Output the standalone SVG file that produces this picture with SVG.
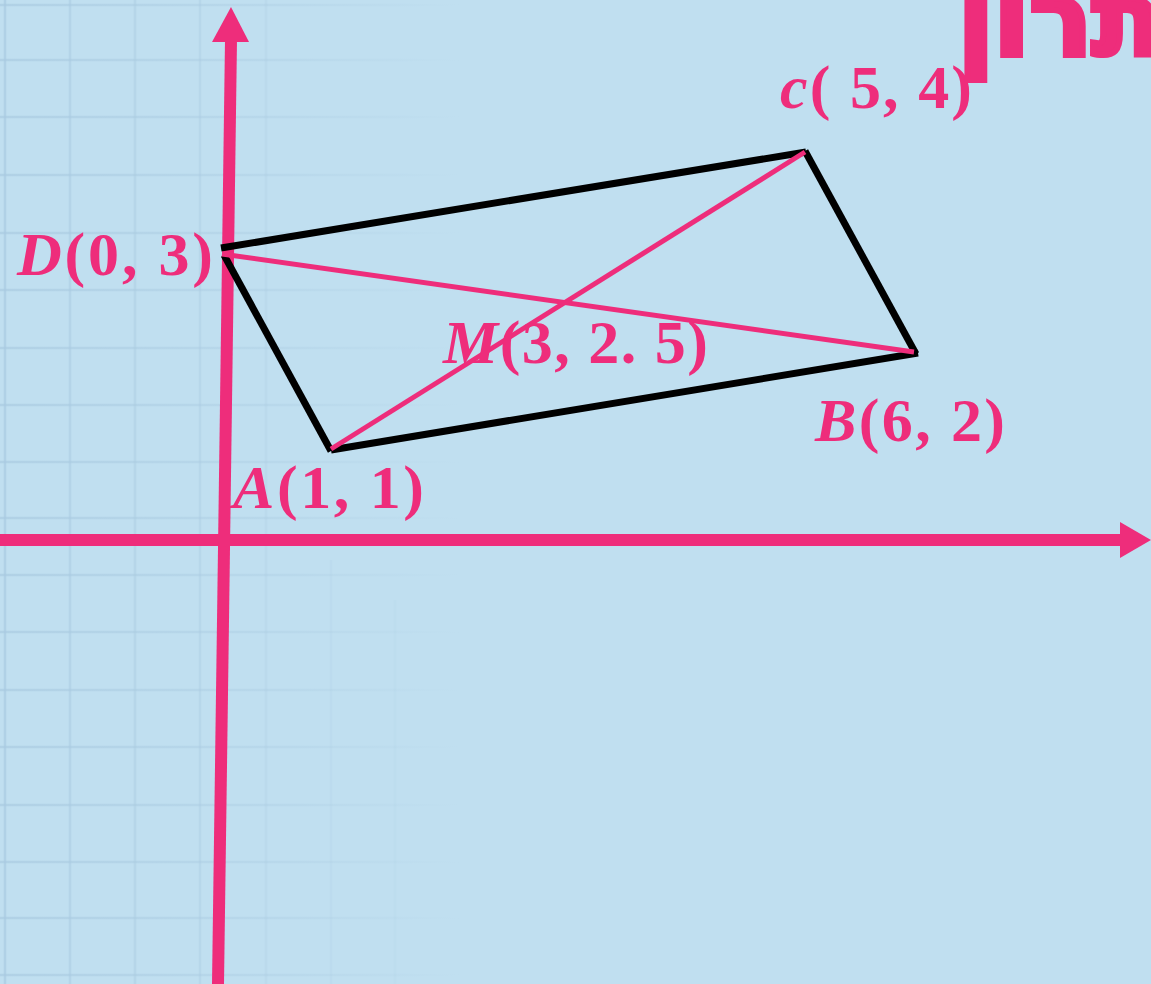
<svg xmlns="http://www.w3.org/2000/svg" width="1151" height="984" viewBox="0 0 1151 984">
<defs>
<style>
.grid line{stroke-width:2.5}
.axis{stroke:#EE2D7B;stroke-width:12;fill:none}
.edge{stroke:#000;stroke-width:7;fill:none}
.diag{stroke:#EE2D7B;stroke-width:5;fill:none}
.lbl{font-family:"Liberation Serif","DejaVu Serif",serif;font-weight:bold;font-size:62px;fill:#EE2D7B}
.it{font-style:italic}
.head{font-family:"DejaVu Sans","Liberation Sans",sans-serif;font-weight:bold;font-size:104px;fill:#EE2D7B;stroke:#EE2D7B;stroke-width:6;stroke-linejoin:miter}
</style>
<linearGradient id="fadeH" gradientUnits="userSpaceOnUse" x1="0" y1="0" x2="460" y2="0">
<stop offset="0" stop-color="#AACBE1" stop-opacity="0.7"/>
<stop offset="0.6" stop-color="#AACBE1" stop-opacity="0.35"/>
<stop offset="1" stop-color="#AACBE1" stop-opacity="0"/>
</linearGradient>
</defs>
<rect width="1151" height="984" fill="#C0DFF0"/>
<g id="grid" class="grid">
<g stroke="url(#fadeH)">
<line x1="0" y1="5" x2="460" y2="5"/>
<line x1="0" y1="60" x2="460" y2="60"/>
<line x1="0" y1="117" x2="460" y2="117"/>
<line x1="0" y1="175" x2="460" y2="175"/>
<line x1="0" y1="233" x2="460" y2="233"/>
<line x1="0" y1="290" x2="460" y2="290"/>
<line x1="0" y1="348" x2="460" y2="348"/>
<line x1="0" y1="405" x2="460" y2="405"/>
<line x1="0" y1="462" x2="460" y2="462"/>
<line x1="0" y1="518" x2="460" y2="518"/>
<line x1="0" y1="575" x2="460" y2="575"/>
<line x1="0" y1="632" x2="460" y2="632"/>
<line x1="0" y1="690" x2="460" y2="690"/>
<line x1="0" y1="747" x2="460" y2="747"/>
<line x1="0" y1="805" x2="460" y2="805"/>
<line x1="0" y1="862" x2="460" y2="862"/>
<line x1="0" y1="918" x2="460" y2="918"/>
<line x1="0" y1="975" x2="460" y2="975"/>
</g>
<g stroke="#AACBE1">
<line x1="5" y1="0" x2="5" y2="984" stroke-opacity="0.7"/>
<line x1="70" y1="0" x2="70" y2="984" stroke-opacity="0.55"/>
<line x1="135" y1="0" x2="135" y2="984" stroke-opacity="0.45"/>
<line x1="200" y1="0" x2="200" y2="984" stroke-opacity="0.4"/>
<line x1="266" y1="0" x2="266" y2="984" stroke-opacity="0.25"/>
<line x1="331" y1="560" x2="331" y2="984" stroke-opacity="0.15"/>
<line x1="395" y1="600" x2="395" y2="984" stroke-opacity="0.1"/>
</g>
</g>
<g id="connectors">
<line id="y-axis" class="axis" x1="218" y1="984" x2="231" y2="40"/>
<polygon points="231,7 249,42 212,42" fill="#EE2D7B"/>
<line id="x-axis" class="axis" x1="0" y1="540" x2="1122" y2="540"/>
<polygon points="1151,540 1120,522 1120,558" fill="#EE2D7B"/>
<line class="edge" x1="221" y1="248" x2="806" y2="152"/>
<line class="edge" x1="805" y1="151" x2="916" y2="354"/>
<line class="edge" x1="918" y1="353" x2="331" y2="450"/>
<line class="edge" x1="331" y1="451" x2="224" y2="255"/>
<line class="diag" x1="331" y1="449" x2="805" y2="152"/>
<line class="diag" x1="222" y1="254" x2="914" y2="352"/>
</g>
<g id="node-D"><text class="lbl" x="17" y="275" textLength="196" lengthAdjust="spacing"><tspan class="it">D</tspan>(0, 3)</text></g>
<g id="node-C"><text class="lbl" x="780" y="108" textLength="192" lengthAdjust="spacing"><tspan class="it">c</tspan>( 5, 4)</text></g>
<g id="node-M"><text class="lbl" x="443" y="363" textLength="265" lengthAdjust="spacing"><tspan class="it">M</tspan>(3, 2. 5)</text></g>
<g id="node-B"><text class="lbl" x="815" y="441" textLength="190" lengthAdjust="spacing"><tspan class="it">B</tspan>(6, 2)</text></g>
<g id="node-A"><text class="lbl" x="233" y="508" textLength="191" lengthAdjust="spacing"><tspan class="it">A</tspan>(1, 1)</text></g>
<g id="title"><text class="head" x="958" y="55">תרון</text></g>
</svg>
